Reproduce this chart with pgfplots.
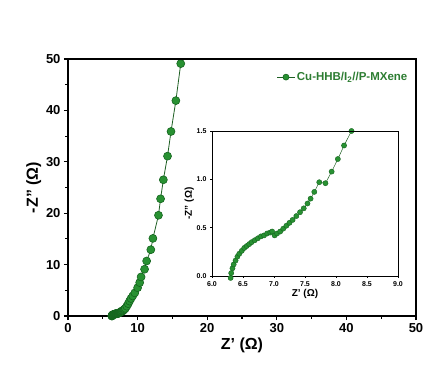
\documentclass[border=0pt]{standalone}
\usepackage{pgfplots}
\pgfplotsset{compat=1.18}
\usepackage{fontspec}
\setmainfont{Liberation Sans}
\definecolor{mgreen}{RGB}{40,145,50}
\definecolor{dgreen}{RGB}{20,100,30}
\definecolor{lgreen}{RGB}{30,95,35}
\definecolor{tgreen}{RGB}{45,125,50}
\pgfplotstableread{
x y
6.30 -0.02
6.31 0.03
6.33 0.08
6.35 0.12
6.38 0.16
6.41 0.20
6.44 0.23
6.48 0.26
6.52 0.29
6.56 0.31
6.60 0.33
6.64 0.35
6.69 0.37
6.74 0.39
6.79 0.41
6.84 0.42
6.89 0.44
6.94 0.45
6.97 0.46
7.01 0.42
7.05 0.44
7.10 0.46
7.15 0.49
7.20 0.52
7.25 0.55
7.30 0.58
7.36 0.62
7.42 0.66
7.48 0.70
7.54 0.75
7.59 0.80
7.65 0.87
7.73 0.97
7.83 0.96
7.93 1.08
8.03 1.21
8.13 1.35
8.25 1.50
8.45 1.90
8.65 2.40
8.85 2.90
9.05 3.40
9.30 3.90
9.60 4.50
10.0 5.50
10.3 6.50
10.5 7.60
11.0 9.10
11.3 10.7
11.9 12.9
12.2 15.1
13.0 19.6
13.3 22.8
13.7 26.5
14.3 31.1
14.8 35.9
15.5 41.9
16.2 49.1
}\datatab
\begin{document}
\begin{tikzpicture}
\path[use as bounding box] (-68pt,-59pt) rectangle (366pt,316pt);
\begin{axis}[
  at={(0pt,0pt)}, anchor=origin,
  scale only axis, width=348pt, height=257pt,
  xmin=0, xmax=50, ymin=0, ymax=50,
  xtick={0,10,...,50}, ytick={0,10,...,50},
  minor tick num=1,
  tick pos=left, tick align=outside,
  major tick length=4pt, minor tick length=2.5pt,
  every tick/.style={line width=1.1pt, black},
  axis line style={line width=1.1pt},
  /pgf/number format/assume math mode=true,
  ticklabel style={font=\bfseries\fontsize{13}{13}\selectfont},
  xlabel={Z' (Ω)}, ylabel={-Z'' (Ω)},
  label style={font=\bfseries\fontsize{16}{16}\selectfont},
  xlabel style={yshift=2pt},
  ylabel style={yshift=-2pt},
  clip=false,
  legend style={draw=none, fill=none, at={(rel axis cs:0.99,0.965)}, anchor=north east,
    font=\bfseries\fontsize{11.5}{12}\selectfont, text=tgreen},
  legend cell align=left,
  legend image post style={mark size=3pt},
  extra description/.code={\draw[black, line width=1.1pt] (rel axis cs:1,0) -- (rel axis cs:1,1) -- (rel axis cs:0,1);},
]
\addplot[color=lgreen, line width=0.8pt, mark=*, mark size=4pt, mark options={fill=mgreen, draw=dgreen, line width=0.6pt}] table {\datatab};
\addlegendentry{Cu-HHB/I\textsubscript{2}//P-MXene}
\end{axis}
\begin{axis}[
  at={(144pt,40pt)}, anchor=south west,
  scale only axis, width=186pt, height=145pt,
  xmin=6, xmax=9, ymin=0, ymax=1.5,
  xtick={6,6.5,...,9}, ytick={0,0.5,1,1.5},
  tick pos=left, tick align=outside,
  major tick length=2pt,
  every tick/.style={line width=0.9pt, black},
  axis line style={line width=0.9pt},
  /pgf/number format/assume math mode=true,
  /pgf/number format/.cd, fixed, fixed zerofill, precision=1, /pgfplots/.cd,
  ticklabel style={font=\bfseries\fontsize{7}{7}\selectfont},
  xlabel={Z' (Ω)}, ylabel={-Z'' (Ω)},
  label style={font=\bfseries\fontsize{10}{10}\selectfont},
  xlabel style={yshift=4pt},
  ylabel style={yshift=-4pt},
  clip=false,
  extra description/.code={\draw[black, line width=0.9pt] (rel axis cs:1,0) -- (rel axis cs:1,1) -- (rel axis cs:0,1);},
]
\addplot[color=lgreen, line width=0.5pt, mark=*, mark size=2.6pt, mark options={fill=mgreen, draw=dgreen, line width=0.4pt}] table[restrict x to domain=6:8.3] {\datatab};
\end{axis}
\end{tikzpicture}
\end{document}
